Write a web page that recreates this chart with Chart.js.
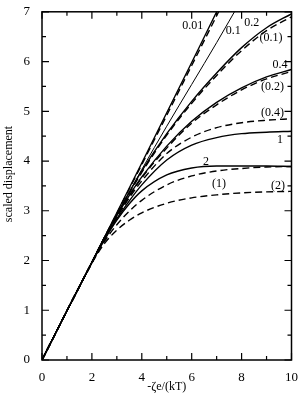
<!DOCTYPE html>
<html><head><meta charset="utf-8">
<script src="https://cdn.jsdelivr.net/npm/chart.js@4/dist/chart.umd.min.js"></script>
<style>html,body{margin:0;padding:0;background:#fff;}#wrap{width:300px;height:397px;position:relative}</style>
</head><body><div id="wrap"><canvas id="c" width="300" height="397"></canvas></div>
<script>
// x values (−ζe/kT)
const xTop = [0, 1, 2, 3, 4, 5, 6, 7, 8];
const xAll = [0, 1, 2, 2.5, 3, 3.5, 4, 5, 6, 7, 8, 9, 10];
// solid curves
const s001 = [0, 0.99, 1.97, 2.96, 3.96, 4.97, 5.98, 7.0, 8.0];
const s01  = [0, 0.99, 1.96, 2.92, 3.83, 4.7, 5.54, 6.38, 7.25];
const s02  = [0, 0.99, 1.96, 2.46, 2.92, 3.37, 3.8, 4.55, 5.2, 5.77, 6.28, 6.68, 6.96];
const s04  = [0, 0.99, 1.96, 2.45, 2.9, 3.31, 3.68, 4.3, 4.8, 5.18, 5.47, 5.69, 5.84];
const s1   = [0, 0.99, 1.96, 2.43, 2.84, 3.2, 3.52, 4.02, 4.32, 4.47, 4.55, 4.58, 4.6];
const s2   = [0, 0.99, 1.96, 2.41, 2.81, 3.14, 3.4, 3.72, 3.86, 3.9, 3.9, 3.9, 3.89];
// dashed curves (labels in parentheses)
const d001 = [0, 0.99, 1.97, 2.95, 3.93, 4.92, 5.92, 6.92, 7.92];
const d01  = [0, 0.99, 1.96, 2.46, 2.91, 3.35, 3.77, 4.52, 5.16, 5.72, 6.22, 6.62, 6.9];
const d02  = [0, 0.99, 1.96, 2.45, 2.89, 3.29, 3.66, 4.26, 4.76, 5.13, 5.43, 5.65, 5.8];
const d04  = [0, 0.99, 1.96, 2.44, 2.87, 3.26, 3.6, 4.15, 4.48, 4.67, 4.77, 4.82, 4.85];
const d1   = [0, 0.99, 1.95, 2.38, 2.72, 2.99, 3.21, 3.52, 3.7, 3.8, 3.85, 3.88, 3.89];
const d2   = [0, 0.99, 1.95, 2.34, 2.61, 2.81, 2.96, 3.15, 3.26, 3.32, 3.36, 3.38, 3.39];
// curve labels and their data positions
const curveLabels = ["0.01", "0.1", "0.2", "(0.1)", "0.4", "(0.2)", "(0.4)", "1", "2", "(1)", "(2)"];
const labelX = [6.04, 7.67, 8.41, 9.18, 9.54, 9.24, 9.24, 9.54, 6.57, 7.09, 9.46];
const labelY = [6.71, 6.61, 6.78, 6.48, 5.94, 5.49, 4.97, 4.42, 3.98, 3.55, 3.51];
// axis ticks
const xTicks = [0, 2, 4, 6, 8, 10];
const yTicks = [0, 1, 2, 3, 4, 5, 6, 7];
const yTitle = "scaled displacement";

const SERIF = "'Liberation Serif','Times New Roman',serif";
function pts(xs, ys) { return ys.map((y, i) => ({x: xs[i], y})); }
function ds(xs, ys, dashed, w) {
  return {data: pts(xs, ys), borderColor: '#000', borderWidth: w || 1.4, borderDash: dashed ? [7, 4] : [],
          pointRadius: 0, fill: false, tension: 0.4, cubicInterpolationMode: 'monotone'};
}

const frameTicks = {
  id: 'frameTicks',
  afterDraw(chart) {
    const {ctx, chartArea: a, scales: {x, y}} = chart;
    ctx.save();
    ctx.strokeStyle = '#000';
    ctx.lineWidth = 1.5;
    ctx.strokeRect(a.left, a.top, a.right - a.left, a.bottom - a.top);
    ctx.lineWidth = 1.2;
    ctx.beginPath();
    for (let v = 0; v <= 10.001; v += 1) {
      const px = x.getPixelForValue(v), L = (Math.round(v) % 2 === 0) ? 7 : 4;
      ctx.moveTo(px, a.bottom); ctx.lineTo(px, a.bottom - L);
      ctx.moveTo(px, a.top); ctx.lineTo(px, a.top + L);
    }
    for (let v = 0; v <= 7.001; v += 0.5) {
      const py = y.getPixelForValue(v), L = (Math.abs(v - Math.round(v)) < 0.01) ? 7 : 4;
      ctx.moveTo(a.left, py); ctx.lineTo(a.left + L, py);
      ctx.moveTo(a.right, py); ctx.lineTo(a.right - L, py);
    }
    ctx.stroke();
    ctx.fillStyle = '#000';
    ctx.font = "12px " + SERIF;
    ctx.textAlign = 'center';
    ctx.textBaseline = 'middle';
    curveLabels.forEach((t, i) => {
      ctx.fillText(t, x.getPixelForValue(labelX[i]), y.getPixelForValue(labelY[i]));
    });
    // y-axis title
    ctx.translate(9, 174);
    ctx.rotate(-Math.PI / 2);
    ctx.font = "12px " + SERIF;
    ctx.fillText(yTitle, 0, 0);
    ctx.restore();
  }
};

new Chart(document.getElementById('c'), {
  type: 'line',
  data: {datasets: [
    ds(xTop, s001, false), ds(xTop, d001, true), ds(xTop, s01, false, 1),
    ds(xAll, s02, false), ds(xAll, d01, true),
    ds(xAll, s04, false), ds(xAll, d02, true),
    ds(xAll, d04, true), ds(xAll, s1, false),
    ds(xAll, s2, false), ds(xAll, d1, true), ds(xAll, d2, true)
  ]},
  options: {
    responsive: false, animation: false, devicePixelRatio: 1,
    layout: {padding: {top: 5, right: 7, left: 0, bottom: 0}},
    plugins: {legend: {display: false}, tooltip: {enabled: false}},
    scales: {
      x: {type: 'linear', min: 0, max: 10,
          afterBuildTicks: s => { s.ticks = xTicks.map(v => ({value: v})); },
          afterFit: s => { s.height = 37; },
          grid: {display: false}, border: {display: false},
          ticks: {color: '#000', font: {family: SERIF, size: 13}, padding: 2, maxRotation: 0},
          title: {display: true, text: '-ζe/(kT)', color: '#000', font: {family: SERIF, size: 12}, padding: {top: 0, bottom: 3}}},
      y: {type: 'linear', min: 0, max: 7,
          afterBuildTicks: s => { s.ticks = yTicks.map(v => ({value: v})); },
          afterFit: s => { s.width = 42; },
          grid: {display: false}, border: {display: false},
          ticks: {color: '#000', font: {family: SERIF, size: 13}, padding: 4}}
    }
  },
  plugins: [frameTicks]
});
</script>
</body></html>
